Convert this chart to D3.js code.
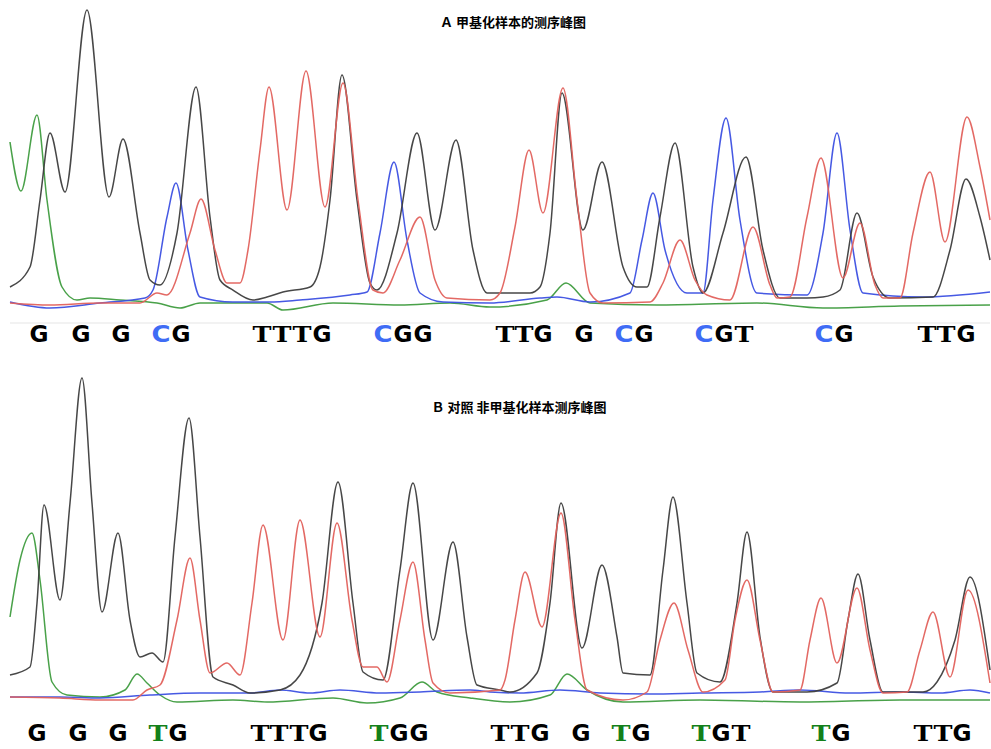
<!DOCTYPE html>
<html><head><meta charset="utf-8">
<script src="https://cdn.jsdelivr.net/npm/d3@7"></script>
<style>html,body{margin:0;padding:0;background:#fff;}</style>
</head><body>
<svg id="chart" width="991" height="749"></svg>
<script>
// ---------- DATA (scan position, signal intensity) ----------
const titleTop = "Ａ 甲基化样本的测序峰图";
const titleBottom = "Ｂ 对照 非甲基化样本测序峰图";

// Panel A (methylated) traces
const topG = [[0,23],[20,43],[30,110],[40,177],[55,118],[77,300],[99,113],[113,171],[130,77],[140,30],[150,25],[167,77],[186,223],[200,93],[210,30],[223,20],[243,10],[257,13],[273,18],[300,23],[310,43],[320,110],[332,235],[347,110],[360,27],[367,20],[387,77],[407,177],[425,80],[446,170],[463,60],[477,17],[500,17],[520,17],[530,23],[540,77],[552,217],[573,80],[592,148],[613,43],[627,23],[637,23],[650,93],[665,167],[683,43],[693,17],[713,77],[736,153],[753,60],[770,12],[797,12],[813,13],[830,20],[847,97],[863,33],[880,12],[923,13],[940,60],[956,131],[970,93],[980,50]];
const topA = [[0,7],[40,5],[90,7],[130,7],[147,17],[157,15],[180,77],[191,111],[205,60],[217,27],[230,27],[238,60],[250,160],[259,223],[277,100],[296,239],[315,103],[333,227],[348,110],[363,20],[373,17],[390,50],[410,93],[425,30],[437,12],[480,10],[490,17],[505,83],[519,160],[533,97],[553,222],[567,110],[580,17],[593,7],[640,8],[653,27],[670,70],[685,30],[697,15],[720,10],[743,83],[760,25],[767,12],[780,13],[797,93],[811,152],[833,32],[850,87],[865,25],[873,12],[890,12],[903,77],[920,138],[935,68],[957,193],[970,143],[980,90]];
const topC = [[0,8],[40,2],[90,7],[135,12],[143,20],[157,93],[166,127],[178,60],[190,13],[223,8],[260,8],[290,10],[340,15],[357,18],[370,77],[384,148],[397,70],[410,17],[433,8],[480,7],[530,12],[547,13],[580,8],[620,17],[632,70],[643,117],[655,60],[677,17],[693,17],[703,110],[716,192],[730,90],[747,17],[797,15],[813,77],[827,177],[840,80],[853,17],[913,13],[980,18]];
const topT = [[0,168],[11,119],[27,195],[37,110],[52,23],[67,10],[80,12],[110,10],[147,7],[170,2],[190,7],[257,7],[273,0],[323,7],[390,5],[440,7],[480,3],[537,10],[556,27],[580,7],[647,5],[747,7],[813,2],[890,4],[980,5]];

// Panel B (unmethylated) traces
const botG = [[0,30],[20,38],[27,102],[34,200],[50,105],[60,202],[72,327],[82,202],[92,93],[108,172],[120,85],[130,48],[142,52],[153,43],[165,168],[179,287],[190,168],[203,28],[223,20],[240,12],[270,15],[290,30],[312,102],[328,223],[343,102],[353,33],[373,25],[390,135],[403,222],[423,65],[443,163],[457,68],[467,20],[490,15],[500,13],[527,32],[540,102],[551,202],[572,57],[592,140],[607,68],[613,32],[640,30],[653,135],[663,208],[677,102],[687,32],[710,23],[727,102],[737,173],[750,68],[763,13],[797,13],[827,22],[838,85],[848,131],[860,65],[873,13],[913,13],[927,23],[945,65],[960,128],[980,35]];
const botA = [[0,8],[50,7],[90,5],[123,5],[137,15],[150,20],[167,85],[180,147],[190,85],[200,32],[217,42],[230,30],[242,102],[253,180],[273,65],[290,185],[310,68],[327,182],[342,85],[353,38],[367,38],[377,23],[390,85],[403,143],[415,65],[423,22],[440,12],[490,15],[495,25],[505,85],[515,133],[532,78],[551,192],[565,85],[577,15],[613,5],[637,13],[650,65],[664,102],[678,55],[693,13],[715,25],[725,85],[737,125],[750,65],[763,13],[790,15],[800,65],[811,107],[827,42],[847,117],[860,55],[873,12],[897,13],[910,55],[923,93],[940,28],[958,115],[980,22]];
const botC = [[0,8],[50,8],[90,7],[140,10],[190,12],[240,12],[270,15],[300,12],[330,15],[370,12],[410,13],[460,15],[480,13],[510,12],[550,15],[590,12],[640,11],[690,12],[750,13],[790,15],[840,12],[890,13],[930,12],[960,15],[980,12]];
const botT = [[0,88],[10,145],[22,172],[30,125],[42,23],[57,10],[90,8],[115,15],[127,31],[137,22],[150,10],[167,3],[223,5],[257,3],[323,7],[357,2],[390,7],[412,23],[427,13],[460,7],[500,3],[540,10],[557,31],[577,15],[613,3],[690,5],[790,3],[890,5],[980,5]];

// Base calls
const topBases = "GGGCGTTTGCGGTTGGCGCGTCGTTG".split("");
const topBasePos = [29,71,111,151,171,252,272,292,312,373,393,413,495,514,533,574,614,634,694,714,734,814,834,917,936,956];
const botBases = "GGGTGTTTGTGGTTGGTGTGTTGTTG".split("");
const botBasePos = [27,68,108,148,168,250,269,289,308,369,389,409,490,510,530,571,611,631,691,711,731,811,831,913,933,952];
const cpgSites = [3,9,16,18,21];

// ---------- DRAWING ----------
const svg = d3.select("#chart");
const colors = {G:"#3d3d3d", A:"#e2615c", C:"#3c50e2", T:"#3f9c3f"};
const x = d3.scaleLinear().domain([0,980]).range([10,990]);

const panels = [
  {title:titleTop, titleX:513, titleY:27, yDom:[0,300], yRange:[310,10],
   traces:[["T",topT],["C",topC],["G",topG],["A",topA]],
   bases:topBases, pos:topBasePos, labelY:342, hi:"#3f6cf5"},
  {title:titleBottom, titleX:519, titleY:412, yDom:[0,330], yRange:[705,375],
   traces:[["T",botT],["C",botC],["G",botG],["A",botA]],
   bases:botBases, pos:botBasePos, labelY:741, hi:"#13801a"}
];

// faint frame edge under top trace image
svg.append("line").attr("x1",x(0)).attr("x2",x(980)).attr("y1",323).attr("y2",323)
  .attr("stroke","#eeeeee").attr("stroke-width",1.5);

panels.forEach(p => {
  const y = d3.scaleLinear().domain(p.yDom).range(p.yRange);
  const line = d3.line().x(d=>x(d[0])).y(d=>y(d[1])).curve(d3.curveMonotoneX);
  p.traces.forEach(([b,data]) => {
    svg.append("path").datum(data).attr("d",line)
      .attr("fill","none").attr("stroke",colors[b]).attr("stroke-width",1.5)
      .attr("stroke-linejoin","round").attr("opacity",0.95);
  });
  svg.append("text").attr("x",p.titleX).attr("y",p.titleY)
    .attr("text-anchor","middle").attr("font-family","'Noto Sans CJK SC', sans-serif")
    .attr("font-size",13).attr("font-weight","bold").attr("fill","#000")
    .style("white-space","pre").text(p.title);
  const g = svg.append("g");
  g.selectAll("text").data(p.bases).join("text")
    .attr("x",(d,i)=>x(p.pos[i])).attr("y",p.labelY)
    .attr("text-anchor","middle")
    .attr("font-family",d=>d==="T"?"'DejaVu Serif',serif":"'DejaVu Sans',sans-serif")
    .attr("font-weight","bold").attr("font-size",23)
    .attr("textLength",19).attr("lengthAdjust","spacingAndGlyphs")
    .attr("fill",(d,i)=>cpgSites.includes(i)?p.hi:"#000")
    .text(d=>d);
});
</script>
</body></html>
